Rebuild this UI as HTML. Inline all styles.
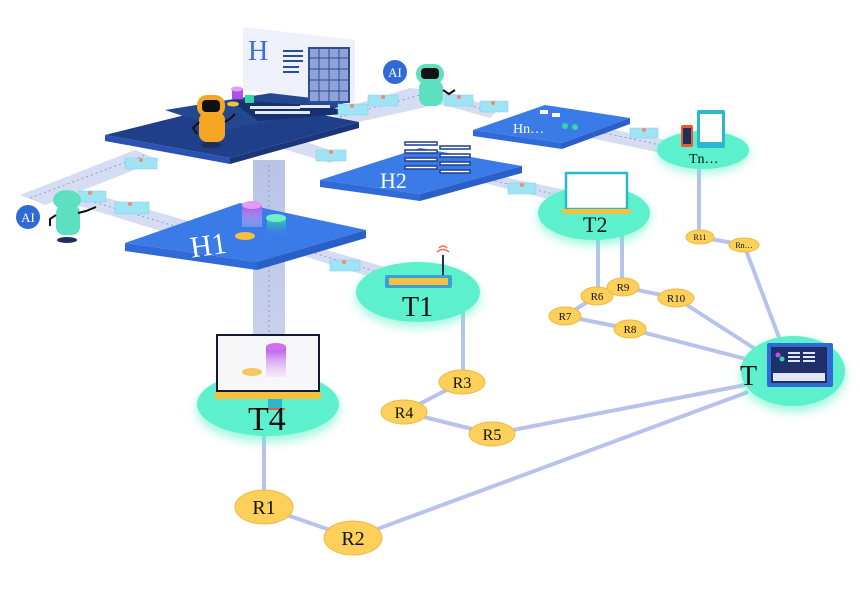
<!DOCTYPE html>
<html><head><meta charset="utf-8"><style>
html,body{margin:0;padding:0;background:#fff;width:860px;height:595px;overflow:hidden}
text{font-family:"Liberation Serif",serif}
</style></head><body>
<svg width="860" height="595" viewBox="0 0 860 595" xmlns="http://www.w3.org/2000/svg">
<defs>
<filter id="glow" x="-30%" y="-30%" width="160%" height="180%"><feGaussianBlur stdDeviation="5"/></filter>
<linearGradient id="pil" x1="0" y1="0" x2="0" y2="1"><stop offset="0" stop-color="#b9c3e6"/><stop offset="1" stop-color="#cfd6f0"/></linearGradient>
<linearGradient id="cylP" x1="0" y1="0" x2="0" y2="1"><stop offset="0" stop-color="#b24ee8"/><stop offset="1" stop-color="#e8c8f8" stop-opacity="0.3"/></linearGradient>
<linearGradient id="cylG" x1="0" y1="0" x2="0" y2="1"><stop offset="0" stop-color="#34d6a8"/><stop offset="1" stop-color="#3a7be8" stop-opacity="0.2"/></linearGradient>
</defs>

<!-- pillar -->
<rect x="253" y="160" width="32" height="250" fill="url(#pil)"/>
<line x1="269" y1="165" x2="269" y2="400" stroke="#8e9bd0" stroke-width="1" stroke-dasharray="2,3"/>

<!-- conveyor bands -->
<g fill="#d6ddf3">
<polygon points="20,195 135,150 160,160 45,205"/>
<polygon points="60,200 90,193 220,230 190,240"/>
<polygon points="330,112 410,88 440,92 500,108 490,118 440,104 345,125"/>
<polygon points="420,90 470,96 480,108 430,104"/>
<polygon points="600,127 690,145 685,158 590,138"/>
<polygon points="280,148 300,140 345,155 330,163"/>
<polygon points="480,182 500,176 575,192 560,202"/>
<polygon points="300,255 320,248 395,270 380,280"/>
</g>
<g stroke="#8e9bd0" stroke-width="1" stroke-dasharray="2,3" fill="none">
<line x1="30" y1="198" x2="145" y2="155"/>
<line x1="80" y1="198" x2="205" y2="235"/>
<line x1="340" y1="117" x2="420" y2="95"/>
<line x1="440" y1="98" x2="495" y2="112"/>
<line x1="600" y1="132" x2="688" y2="151"/>
<line x1="490" y1="180" x2="568" y2="197"/>
<line x1="310" y1="252" x2="388" y2="275"/>
</g>

<!-- edges -->
<g stroke="#b7c3ea" stroke-width="4" fill="none">
<line x1="463" y1="310" x2="463" y2="372"/>
<line x1="462" y1="382" x2="404" y2="412"/>
<line x1="404" y1="412" x2="492" y2="434"/>
<line x1="492" y1="434" x2="745" y2="385"/>
<line x1="264" y1="435" x2="264" y2="492"/>
<line x1="264" y1="507" x2="353" y2="538"/>
<line x1="353" y1="538" x2="748" y2="392"/>
<line x1="598" y1="232" x2="598" y2="290"/>
<line x1="622" y1="232" x2="622" y2="282"/>
<line x1="597" y1="296" x2="565" y2="316"/>
<line x1="565" y1="316" x2="630" y2="329"/>
<line x1="630" y1="329" x2="750" y2="360"/>
<line x1="623" y1="287" x2="676" y2="298"/>
<line x1="676" y1="298" x2="760" y2="352"/>
<line x1="699" y1="168" x2="699" y2="233"/>
<line x1="700" y1="237" x2="744" y2="245"/>
<line x1="744" y1="245" x2="780" y2="340"/>
</g>

<!-- platforms -->
<g>
<polygon points="105,135 245,100 359,122 230,158" fill="#1f3f8a"/>
<polygon points="105,135 230,158 230,164 105,141" fill="#2a52b0"/>
<polygon points="230,158 359,122 359,128 230,164" fill="#1b357a"/>
<polygon points="165,110 290,90 350,105 225,130" fill="#24488f"/>
<polygon points="230,100 325,106 355,113 258,121" fill="#163070"/>
<g fill="#e6e9f2"><rect x="250" y="106" width="50" height="3"/><rect x="255" y="111" width="55" height="3"/><rect x="300" y="105" width="30" height="3"/></g>
</g>
<g>
<polygon points="125,243 240,203 366,230 257,262" fill="#3a7be8"/>
<polygon points="125,243 257,262 257,270 125,251" fill="#2f6ad6"/>
<polygon points="257,262 366,230 366,238 257,270" fill="#2a5fc8"/>
<text x="190" y="255" font-size="30" fill="#fff" transform="rotate(-8 210 245)">H1</text>
</g>
<g>
<polygon points="320,180 420,148 522,166 420,194" fill="#3a7be8"/>
<polygon points="320,180 420,194 420,201 320,187" fill="#2f6ad6"/>
<polygon points="420,194 522,166 522,173 420,201" fill="#2a5fc8"/>
<text x="380" y="188" font-size="22" fill="#fff">H2</text>
</g>
<g>
<polygon points="473,130 545,105 630,118 562,143" fill="#3a7be8"/>
<polygon points="473,130 562,143 562,149 473,136" fill="#2f6ad6"/>
<polygon points="562,143 630,118 630,124 562,149" fill="#2a5fc8"/>
<text x="513" y="133" font-size="14" fill="#fff">Hn…</text>
<rect x="540" y="110" width="8" height="4" fill="#fff"/><rect x="552" y="113" width="8" height="4" fill="#fff"/><circle cx="565" cy="126" r="3" fill="#34d6a8"/><circle cx="575" cy="127" r="3" fill="#34d6a8"/>
</g>
<!-- H2 document stack -->
<g fill="#fff" stroke="#1f3f8a" stroke-width="1.5">
<rect x="405" y="142" width="32" height="3"/><rect x="405" y="150" width="32" height="3"/><rect x="405" y="158" width="32" height="3"/><rect x="405" y="166" width="32" height="3"/>
<rect x="440" y="146" width="30" height="3"/><rect x="440" y="154" width="30" height="3"/><rect x="440" y="162" width="30" height="3"/><rect x="440" y="170" width="30" height="3"/>
</g>

<!-- H panel -->
<polygon points="243,27 355,40 355,103 243,90" fill="#eef0fa"/>
<text x="248" y="60" font-size="28" fill="#3a6ee0">H</text>
<g fill="#2a4d9a"><rect x="283" y="50" width="20" height="2"/><rect x="283" y="55" width="20" height="2"/><rect x="283" y="60" width="20" height="2"/><rect x="283" y="66" width="16" height="2"/><rect x="283" y="71" width="16" height="2"/></g>
<rect x="309" y="48" width="40" height="54" fill="#8fa3d8" stroke="#2a4d9a" stroke-width="2"/>
<g stroke="#2a4d9a" stroke-width="1"><line x1="319" y1="48" x2="319" y2="102"/><line x1="329" y1="48" x2="329" y2="102"/><line x1="339" y1="48" x2="339" y2="102"/><line x1="309" y1="58" x2="349" y2="58"/><line x1="309" y1="69" x2="349" y2="69"/><line x1="309" y1="80" x2="349" y2="80"/><line x1="309" y1="91" x2="349" y2="91"/></g>

<!-- cylinders top -->
<rect x="232" y="89" width="11" height="10" fill="#b24ee8"/><ellipse cx="237" cy="89" rx="6" ry="2.5" fill="#e09cf8"/>
<rect x="245" y="95" width="9" height="8" fill="#34d6a8"/>
<ellipse cx="233" cy="104" rx="6" ry="2.5" fill="#f5c040"/>
<!-- H1 cylinders -->
<rect x="242" y="205" width="20" height="22" fill="url(#cylP)"/><ellipse cx="252" cy="205" rx="10" ry="4" fill="#e09cf8"/>
<rect x="267" y="218" width="19" height="18" fill="url(#cylG)"/><ellipse cx="276" cy="218" rx="10" ry="4" fill="#6ff0c8"/>
<ellipse cx="245" cy="236" rx="10" ry="4" fill="#f5c040"/>

<!-- conveyor boxes -->
<g fill="#9fe4f5" stroke="#7fcde8" stroke-width="0.5">
<rect x="125" y="158" width="32" height="11"/><rect x="78" y="191" width="28" height="11"/><rect x="115" y="202" width="34" height="12"/>
<rect x="338" y="104" width="30" height="11"/><rect x="368" y="95" width="30" height="11"/>
<rect x="445" y="95" width="28" height="11"/><rect x="480" y="101" width="28" height="11"/>
<rect x="316" y="150" width="30" height="11"/><rect x="508" y="183" width="28" height="11"/>
<rect x="330" y="260" width="30" height="11"/><rect x="630" y="128" width="28" height="10"/>
</g>
<g fill="#f28a6a">
<circle cx="141" cy="160" r="2"/><circle cx="90" cy="193" r="2"/><circle cx="130" cy="204" r="2"/><circle cx="352" cy="106" r="2"/><circle cx="383" cy="97" r="2"/><circle cx="459" cy="97" r="2"/><circle cx="493" cy="103" r="2"/><circle cx="331" cy="152" r="2"/><circle cx="522" cy="185" r="2"/><circle cx="344" cy="262" r="2"/><circle cx="644" cy="130" r="2"/>
</g>

<!-- teal ellipses -->
<g>
<ellipse cx="418" cy="297" rx="62" ry="30" fill="#5ef0c8" filter="url(#glow)" opacity="0.6"/>
<ellipse cx="418" cy="292" rx="62" ry="30" fill="#5cf0cc"/>
<ellipse cx="594" cy="217" rx="56" ry="28" fill="#5ef0c8" filter="url(#glow)" opacity="0.6"/>
<ellipse cx="594" cy="213" rx="56" ry="27" fill="#5cf0cc"/>
<ellipse cx="703" cy="153" rx="46" ry="20" fill="#5ef0c8" filter="url(#glow)" opacity="0.6"/>
<ellipse cx="703" cy="150" rx="46" ry="19" fill="#5cf0cc"/>
<ellipse cx="268" cy="410" rx="71" ry="32" fill="#5ef0c8" filter="url(#glow)" opacity="0.6"/>
<ellipse cx="268" cy="404" rx="71" ry="32" fill="#5cf0cc"/>
<ellipse cx="793" cy="376" rx="52" ry="36" fill="#5ef0c8" filter="url(#glow)" opacity="0.6"/>
<ellipse cx="793" cy="371" rx="52" ry="35" fill="#5cf0cc"/>
</g>

<!-- T1 router -->
<rect x="385" y="275" width="67" height="13" rx="2" fill="#3aa0d8"/><rect x="389" y="278" width="59" height="7" fill="#f5c040"/>
<line x1="443" y1="275" x2="443" y2="255" stroke="#1f2f5a" stroke-width="2"/>
<path d="M437,252 q6,-5 12,0 M439,248 q4,-4 8,0" stroke="#f07050" stroke-width="1.5" fill="none"/>
<text x="402" y="316" font-size="28" fill="#111">T1</text>
<!-- T2 laptop -->
<rect x="566" y="173" width="61" height="36" fill="#fff" stroke="#2ab8d0" stroke-width="2.5"/>
<polygon points="560,209 633,209 628,214 565,214" fill="#f5c040"/>
<text x="583" y="232" font-size="22" fill="#111">T2</text>
<!-- Tn -->
<rect x="681" y="125" width="12" height="22" rx="2" fill="#e85a30"/><rect x="683" y="128" width="8" height="16" fill="#1f2f5a"/>
<rect x="697" y="110" width="28" height="38" rx="2" fill="#2ab8d0"/><rect x="700" y="114" width="22" height="28" fill="#fff"/>
<text x="689" y="163" font-size="14" fill="#111">Tn…</text>
<!-- T4 laptop -->
<rect x="268" y="390" width="14" height="20" fill="#2ab8d0"/><rect x="255" y="408" width="30" height="2" fill="#e85a30"/>
<rect x="217" y="335" width="102" height="56" fill="#f7f7fa" stroke="#121a30" stroke-width="2"/>
<rect x="215" y="392" width="106" height="7" fill="#f5c040"/>
<rect x="266" y="347" width="20" height="30" fill="url(#cylP)"/><ellipse cx="276" cy="347" rx="10" ry="4" fill="#d070f0"/>
<ellipse cx="252" cy="372" rx="10" ry="4" fill="#f5c860"/>
<text x="248" y="430" font-size="34" fill="#111">T4</text>
<!-- T device -->
<rect x="767" y="343" width="66" height="44" rx="2" fill="#2f6ad6"/><rect x="771" y="347" width="56" height="36" fill="#1f2f6a"/>
<g fill="#e0e6f5"><rect x="788" y="352" width="12" height="2"/><rect x="788" y="356" width="12" height="2"/><rect x="788" y="360" width="12" height="2"/><rect x="803" y="352" width="12" height="2"/><rect x="803" y="356" width="12" height="2"/><rect x="803" y="360" width="12" height="2"/><rect x="773" y="373" width="52" height="8"/></g>
<circle cx="778" cy="355" r="2.5" fill="#c050f0"/><circle cx="782" cy="359" r="2.5" fill="#34d6a8"/>
<text x="740" y="385" font-size="28" fill="#111">T</text>

<!-- R nodes -->
<g fill="#fcd05a" stroke="#f0b840" stroke-width="1">
<ellipse cx="264" cy="507" rx="29" ry="17"/><ellipse cx="353" cy="538" rx="29" ry="17"/>
<ellipse cx="462" cy="382" rx="23" ry="12"/><ellipse cx="404" cy="412" rx="23" ry="12"/><ellipse cx="492" cy="434" rx="23" ry="12"/>
<ellipse cx="597" cy="296" rx="16" ry="9"/><ellipse cx="565" cy="316" rx="16" ry="9"/><ellipse cx="630" cy="329" rx="16" ry="9"/><ellipse cx="623" cy="287" rx="16" ry="9"/><ellipse cx="676" cy="298" rx="18" ry="9"/>
<ellipse cx="700" cy="237" rx="14" ry="7"/><ellipse cx="744" cy="245" rx="15" ry="7"/>
</g>
<g fill="#111" text-anchor="middle">
<text x="264" y="514" font-size="20">R1</text><text x="353" y="545" font-size="20">R2</text>
<text x="462" y="388" font-size="16">R3</text><text x="404" y="418" font-size="16">R4</text><text x="492" y="440" font-size="16">R5</text>
<text x="597" y="300" font-size="11">R6</text><text x="565" y="320" font-size="11">R7</text><text x="630" y="333" font-size="11">R8</text><text x="623" y="291" font-size="11">R9</text><text x="676" y="302" font-size="11">R10</text>
<text x="700" y="240" font-size="8">R11</text><text x="744" y="248" font-size="8">Rn…</text>
</g>

<!-- AI badges -->
<circle cx="395" cy="72" r="12" fill="#2f6ad6"/><text x="395" y="77" font-size="13" fill="#fff" text-anchor="middle">AI</text>
<circle cx="28" cy="217" r="12" fill="#2f6ad6"/><text x="28" y="222" font-size="13" fill="#fff" text-anchor="middle">AI</text>

<!-- robots -->
<g>
<rect x="199" y="112" width="26" height="30" rx="8" fill="#f5a623"/>
<rect x="197" y="95" width="28" height="22" rx="10" fill="#f5a623"/><rect x="202" y="100" width="18" height="12" rx="4" fill="#111"/>
<ellipse cx="211" cy="145" rx="10" ry="3" fill="#1f2f5a"/>
<path d="M199,122 l-6,6 l4,6 M225,122 l6,-4 l4,-4" stroke="#111" stroke-width="2" fill="none"/>
</g>
<g>
<rect x="419" y="80" width="24" height="26" rx="8" fill="#5ce0c0"/>
<rect x="416" y="64" width="28" height="20" rx="10" fill="#5ce0c0"/><rect x="421" y="68" width="18" height="11" rx="4" fill="#111"/>
<path d="M443,90 l6,4 l6,-4" stroke="#111" stroke-width="2" fill="none"/>
</g>
<g>
<rect x="56" y="205" width="24" height="30" rx="8" fill="#5ce0c0"/>
<ellipse cx="67" cy="200" rx="14" ry="10" fill="#5ce0c0"/>
<ellipse cx="67" cy="240" rx="10" ry="3" fill="#1f2f5a"/>
<path d="M56,215 l-6,4 l0,7 M78,213 l8,-2 l10,-4" stroke="#111" stroke-width="2" fill="none"/>
</g>
</svg>
</body></html>
